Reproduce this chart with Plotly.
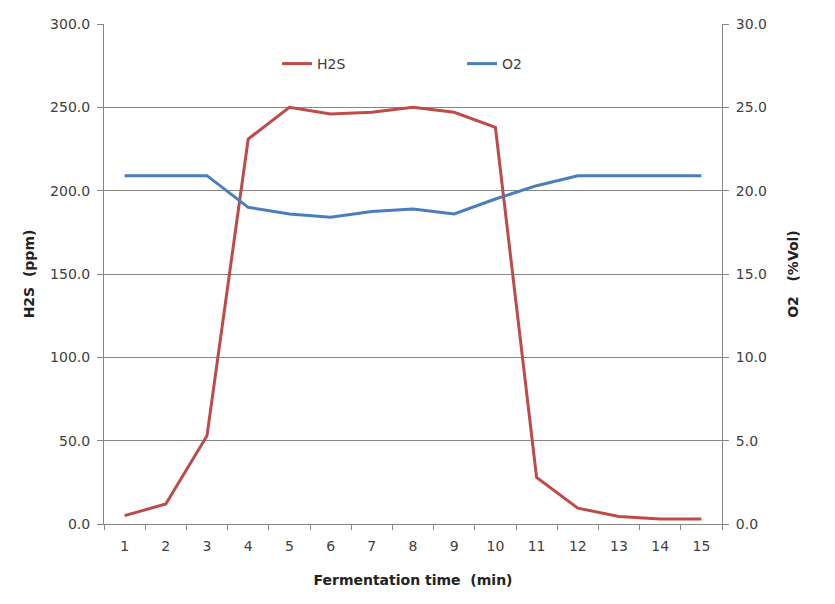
import plotly.graph_objects as go

# data
minutes = [str(i) for i in range(1, 16)]
h2s_ppm = [5, 12, 53, 231, 250, 246, 247, 250, 247, 238, 28, 9.5, 4.5, 3, 3]
o2_vol = [20.9, 20.9, 20.9, 19.0, 18.6, 18.4, 18.75, 18.9, 18.6, 19.5, 20.3, 20.9, 20.9, 20.9, 20.9]

h2s_ticks = [0, 50, 100, 150, 200, 250, 300]
o2_ticks = [0, 5, 10, 15, 20, 25, 30]

RED = "#BE4B48"
BLUE = "#4A7EBB"
GRID = "#868686"
FONT = "DejaVu Sans, Verdana, sans-serif"

fig = go.Figure()

fig.add_trace(go.Scatter(
    x=minutes, y=h2s_ppm, name="H2S", mode="lines",
    line=dict(color=RED, width=3), yaxis="y"
))
fig.add_trace(go.Scatter(
    x=minutes, y=o2_vol, name="O2", mode="lines",
    line=dict(color=BLUE, width=3), yaxis="y2"
))

# page body adds 8px offset, margins compensate
fig.update_layout(
    width=835, height=604,
    margin=dict(l=96, r=121, t=16, b=88),
    paper_bgcolor="white", plot_bgcolor="white",
    font=dict(family=FONT, size=14, color="#404040"),
    showlegend=True,
    legend=dict(
        orientation="h", x=0.28, y=0.92, xanchor="left", yanchor="middle",
        entrywidth=140, font=dict(size=14, color="#404040"),
        bgcolor="rgba(0,0,0,0)"
    ),
    xaxis=dict(
        type="category", range=[-0.5, 14.5], tickson="boundaries",
        ticks="outside", ticklen=5, ticklabelstandoff=9,
        tickcolor=GRID, showline=True, linecolor=GRID, linewidth=1,
        showgrid=False, zeroline=False, automargin=False,
        title=dict(text="<b>Fermentation time  (min)</b>", standoff=22,
                   font=dict(size=14, color="#222222")),
    ),
    yaxis=dict(
        range=[0, 300], tickvals=h2s_ticks,
        ticktext=[f"{v:.1f}" for v in h2s_ticks],
        ticks="outside", ticklen=6, tickcolor=GRID, ticklabelstandoff=4,
        showline=True, linecolor=GRID, linewidth=1, automargin=False,
        showgrid=True, gridcolor=GRID, gridwidth=1, zeroline=False,
        title=dict(text="<b>H2S  (ppm)</b>", standoff=12,
                   font=dict(size=14, color="#222222")),
    ),
    yaxis2=dict(
        overlaying="y", side="right", range=[0, 30], tickvals=o2_ticks,
        ticktext=[f"{v:.1f}" for v in o2_ticks],
        ticks="outside", ticklen=6, tickcolor=GRID, ticklabelstandoff=4,
        showline=True, linecolor=GRID, linewidth=1, automargin=False,
        showgrid=False, zeroline=False,
        title=dict(text="<b>O2   (%Vol)</b>", standoff=22,
                   font=dict(size=14, color="#222222")),
    ),
)

fig.write_html("out.html")
